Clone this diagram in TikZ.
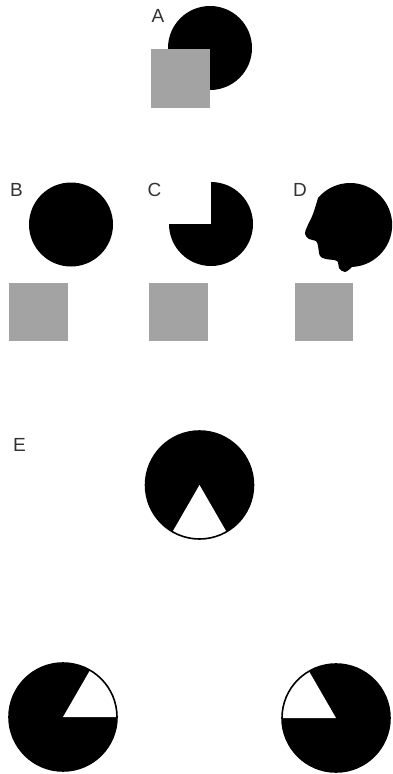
\documentclass[tikz,border=0pt]{standalone}
\usepackage{fontspec}
\setmainfont{Liberation Sans}
\definecolor{sqgray}{HTML}{A3A3A3}
\definecolor{lblgray}{HTML}{333333}
\begin{document}
\begin{tikzpicture}[x=1pt,y=-1pt,
  lbl/.style={font=\fontsize{19}{19}\selectfont, text=lblgray, inner sep=0pt},
  sq/.style={fill=sqgray},
  disc/.style={fill=black},
  rim/.style={draw=black, line width=1.6pt}]
\useasboundingbox[fill=white] (0,0) rectangle (392,774);
% Panel A
\node[lbl] (la) at (158,16) {A};
\fill[disc] (210,48) circle[radius=42];
\fill[sq] (151,49) rectangle (210,108);
% Panel B
\node[lbl] (lb) at (16.5,190) {B};
\fill[disc] (71,224.5) circle[radius=42];
\fill[sq] (9,283) rectangle (68,341);
% Panel C
\node[lbl] (lc) at (154.5,190) {C};
\fill[disc] (211,224) -- ++(-180:42) arc[start angle=-180, end angle=-450, radius=42] -- cycle;
\fill[sq] (149,283) rectangle (208,341);
% Panel D
\node[lbl] (ld) at (300,190) {D};
\coordinate (dc) at (349,224);
\fill[disc] (318,198) arc[start angle=-140, end angle=86, radius=42]
  -- plot[smooth, tension=0.6] coordinates {(352,267) (345,272) (339,268) (337,261) (326,259) (320,256) (318,246) (316,241) (309,239) (305,234) (307,227) (313,214) (318,198)} -- cycle;
\fill[sq] (295,283) rectangle (353,341);
% Panel E
\node[lbl] (le) at (19.5,445) {E};
\fill[disc] (199.5,485) circle[radius=54];
\fill[white] (199.5,485) -- ++(-240:54) arc[start angle=-240, end angle=-300, radius=54] -- cycle;
\draw[rim] (199.5,485) circle[radius=54];
\fill[disc] (63,717) circle[radius=54];
\fill[white] (63,717) -- ++(0:54) arc[start angle=0, end angle=-60, radius=54] -- cycle;
\draw[rim] (63,717) circle[radius=54];
\fill[disc] (336,718) circle[radius=54];
\fill[white] (336,718) -- ++(-120:54) arc[start angle=-120, end angle=-180, radius=54] -- cycle;
\draw[rim] (336,718) circle[radius=54];
\end{tikzpicture}
\end{document}
